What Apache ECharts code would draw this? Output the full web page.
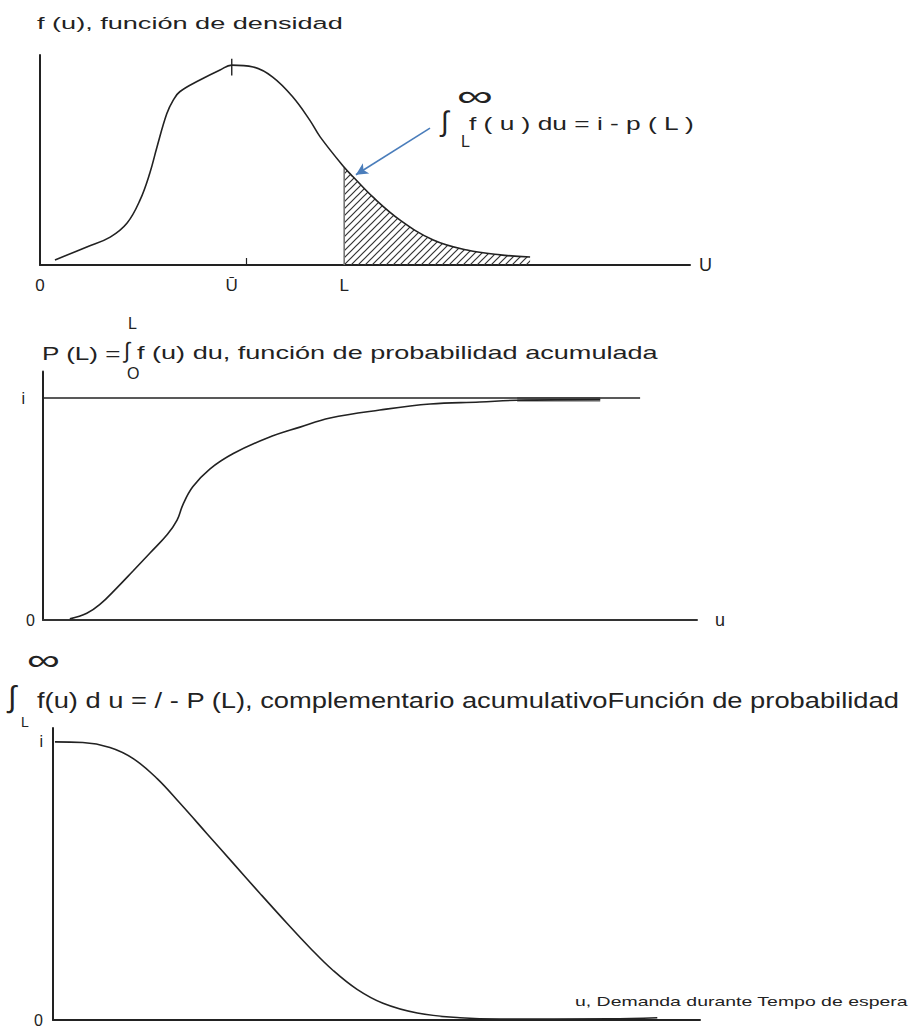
<!DOCTYPE html>
<html>
<head>
<meta charset="utf-8">
<script src="https://cdn.jsdelivr.net/npm/echarts@6/dist/echarts.min.js"></script>
<style>
  html, body { margin: 0; padding: 0; background: #fff; }
  #chart { width: 916px; height: 1036px; }
</style>
</head>
<body>
<div id="chart"></div>
<script>
// ---- f(u): density of demand during lead time ----
const densityU = [2.3, 7.2, 10.8, 13.4, 15.4, 16.9, 18.0, 19.5, 20.5, 21.5, 24.6, 27.7, 29.5, 32.8, 35.8, 38.9, 41.5, 43.1, 46.8, 48.2, 51.2, 55.4, 60.5, 65.7, 70.8, 75.4];
const densityF = [0.024, 0.086, 0.133, 0.2, 0.31, 0.438, 0.562, 0.72, 0.785, 0.825, 0.881, 0.929, 0.952, 0.943, 0.895, 0.8, 0.69, 0.61, 0.465, 0.419, 0.324, 0.214, 0.119, 0.071, 0.048, 0.038];
const L_VALUE = 46.8;      // reorder level L
const U_MEAN = 29.5;       // mean demand Ū
const U_MARK = 31.8;       // small tick drawn on the u axis
const arrowFrom = [60, 0.652];
const arrowTo = [48.6, 0.43];

// ---- P(L): cumulative probability ----
const cumU = [4.1, 6.7, 8.7, 11.3, 13.8, 16.4, 19.0, 20.5, 21.4, 22.9, 25.5, 29.1, 34.3, 39.3, 43.9, 51.5, 59.2, 66.8, 72.5, 85.2];
const cumP = [0.005, 0.03, 0.07, 0.145, 0.222, 0.303, 0.385, 0.45, 0.52, 0.6, 0.68, 0.75, 0.82, 0.869, 0.91, 0.946, 0.973, 0.982, 0.99, 0.993];
const cumTopU = [-2, 91.3];      // asymptote P = 1
const cumSettleU = [72.5, 85.2]; // grey band where the curve merges with 1
const cumSettleP = 0.993;

// ---- 1 - P(L): complementary cumulative ----
const compU = [0.3, 4.6, 8.8, 12.4, 16.1, 19.6, 23.8, 27.8, 32.0, 36.2, 39.7, 43.3, 47.0, 51.0, 56.3, 62.9, 69.1, 86.0, 93.4];
const compQ = [1.0, 0.998, 0.98, 0.94, 0.868, 0.78, 0.67, 0.565, 0.455, 0.347, 0.26, 0.178, 0.11, 0.06, 0.025, 0.008, 0.003, 0.004, 0.008];

const FONT = '"Liberation Sans", Arial, sans-serif';
const INK = '#222';

const pairs = (xs, ys) => xs.map((x, i) => [x, ys[i]]);
const densityPts = pairs(densityU, densityF);
const tailPts = densityPts.filter(p => p[0] >= L_VALUE);
const fAtL = densityF[densityU.indexOf(L_VALUE)];
const peakF = Math.max(...densityF);

// hatch pattern for the tail area
function hatchCanvas() {
  const s = 7;
  const c = document.createElement('canvas');
  c.width = s; c.height = s;
  const g = c.getContext('2d');
  g.strokeStyle = '#333';
  g.lineWidth = 1.2;
  g.beginPath();
  g.moveTo(-1, s + 1); g.lineTo(s + 1, -1);
  g.moveTo(-1, 1); g.lineTo(1, -1);
  g.moveTo(s - 1, s + 1); g.lineTo(s + 1, s - 1);
  g.stroke();
  return c;
}

// text helper: left-anchored, stretched horizontally to a given width
const mctx = document.createElement('canvas').getContext('2d');
function label(text, x, y, size, width, opts) {
  opts = opts || {};
  const font = (opts.weight || 'normal') + ' ' + size + 'px ' + FONT;
  mctx.font = font;
  const w = mctx.measureText(text).width;
  return {
    type: 'text', x: x, y: y, silent: true,
    scaleX: width ? width / w : 1,
    style: { text: text, font: font, fill: opts.color || INK, align: 'left', verticalAlign: 'middle' }
  };
}

function baseX(gridIndex, extra) {
  return Object.assign({
    type: 'value', gridIndex: gridIndex, min: 0, max: 100,
    axisLine: { show: true, onZero: false, lineStyle: { color: INK, width: 2 } },
    axisTick: { show: false },
    axisLabel: { show: false },
    splitLine: { show: false }
  }, extra || {});
}
function baseY(gridIndex, max, extra) {
  return Object.assign({
    type: 'value', gridIndex: gridIndex, min: 0, max: max,
    axisLine: { show: true, onZero: false, lineStyle: { color: INK, width: 2 } },
    axisTick: { show: false },
    axisLabel: { show: false },
    splitLine: { show: false }
  }, extra || {});
}

const chart = echarts.init(document.getElementById('chart'), null, { renderer: 'svg' });

const option = {
  animation: false,
  backgroundColor: '#fff',
  grid: [
    { left: 40, top: 55, width: 650, height: 210 },
    { left: 43, top: 371.4, width: 654, height: 248.6 },
    { left: 53, top: 728, width: 647, height: 292 }
  ],
  xAxis: [
    baseX(0, {
      name: 'U', nameLocation: 'end', nameGap: 9,
      nameTextStyle: { fontSize: 18, color: INK, fontFamily: FONT },
      axisTick: { show: true, customValues: [U_MARK], inside: true, length: 7, lineStyle: { color: INK, width: 1.2 } },
      axisLabel: {
        show: true, customValues: [0, U_MEAN, L_VALUE], margin: 12,
        fontSize: 17, color: INK, fontFamily: FONT,
        formatter: v => v === 0 ? '0' : (v === U_MEAN ? 'Ū' : 'L')
      }
    }),
    baseX(1, {
      name: 'u', nameLocation: 'end', nameGap: 18,
      nameTextStyle: { fontSize: 18, color: INK, fontFamily: FONT },
      axisLine: { show: true, onZero: false, lineStyle: { color: '#333', width: 2 } }
    }),
    baseX(2)
  ],
  yAxis: [
    baseY(0, 1),
    baseY(1, 1.12, {
      axisLabel: {
        show: true, customValues: [0, 1], margin: 8,
        fontSize: 16, color: INK, fontFamily: FONT,
        formatter: v => v === 0 ? '0' : '{i|i}',
        rich: { i: { fontSize: 16, color: INK, fontFamily: FONT, padding: [0, 10, 0, 0] } }
      }
    }),
    baseY(2, 1.05, {
      axisLabel: {
        show: true, customValues: [0, 1], margin: 10,
        fontSize: 16, color: INK, fontFamily: FONT,
        formatter: v => v === 0 ? '0' : 'i'
      }
    })
  ],
  series: [
    {
      name: 'f(u)', type: 'line', xAxisIndex: 0, yAxisIndex: 0,
      data: densityPts, smooth: 0.4, symbol: 'none',
      lineStyle: { color: INK, width: 1.6 },
      markLine: {
        silent: true, symbol: ['none', 'arrow'], symbolSize: [9, 12],
        label: { show: false },
        lineStyle: { color: '#4a7dbb', width: 1.6, type: 'solid' },
        emphasis: { disabled: true },
        data: [[{ coord: arrowFrom }, { coord: arrowTo }]]
      },
      z: 3
    },
    {
      name: '1 - P(L)', type: 'line', xAxisIndex: 0, yAxisIndex: 0,
      data: tailPts, smooth: 0.4, symbol: 'none',
      lineStyle: { width: 0, opacity: 0 },
      areaStyle: { color: { image: hatchCanvas(), repeat: 'repeat' }, opacity: 1 },
      z: 2
    },
    {
      name: 'L', type: 'line', xAxisIndex: 0, yAxisIndex: 0,
      data: [[L_VALUE, 0], [L_VALUE, fAtL]], symbol: 'none',
      lineStyle: { color: '#777', width: 1.6 }, z: 2
    },
    {
      name: 'mean mark', type: 'line', xAxisIndex: 0, yAxisIndex: 0,
      data: [[U_MEAN, peakF - 0.05], [U_MEAN, peakF + 0.03]], symbol: 'none',
      lineStyle: { color: INK, width: 1.4 }, z: 4
    },
    {
      name: 'P(L)', type: 'line', xAxisIndex: 1, yAxisIndex: 1,
      data: pairs(cumU, cumP), smooth: 0.4, symbol: 'none',
      lineStyle: { color: INK, width: 1.6 }, z: 3
    },
    {
      name: 'P = 1', type: 'line', xAxisIndex: 1, yAxisIndex: 1, clip: false,
      data: cumTopU.map(u => [u, 1]), symbol: 'none',
      lineStyle: { color: INK, width: 1.6 }, z: 3
    },
    {
      name: 'settle', type: 'line', xAxisIndex: 1, yAxisIndex: 1,
      data: cumSettleU.map(u => [u, cumSettleP]), symbol: 'none',
      lineStyle: { color: '#aaa', width: 5 }, z: 2
    },
    {
      name: '1 - P(L) curve', type: 'line', xAxisIndex: 2, yAxisIndex: 2,
      data: pairs(compU, compQ), smooth: 0.4, symbol: 'none',
      lineStyle: { color: INK, width: 1.6 }, z: 3
    }
  ],
  graphic: [
    // top panel
    label('f (u), función de densidad', 37, 23, 17, 306),
    label('∫', 441, 121, 28),
    label('∞', 457, 96, 30, 36),
    label('L', 461, 141, 16),
    label('f ( u ) du = i - p ( L )', 469, 123, 19, 226),
    // middle panel
    label('P (L) =', 42, 353, 19, 79),
    label('∫', 124, 350, 22),
    label('L', 128, 323, 16),
    label('O', 127, 373, 16),
    label('f (u) du, función de probabilidad acumulada', 137, 353, 19, 521),
    // bottom panel
    label('∞', 27, 660, 30, 33),
    label('∫', 8, 696, 30),
    label('L', 21, 722, 14),
    label('f(u) d u = / - P (L), complementario acumulativoFunción de probabilidad', 37, 700, 22, 863),
    label('u, Demanda durante Tempo de espera', 575, 1002, 12, 333)
  ]
};

chart.setOption(option);
</script>
</body>
</html>
